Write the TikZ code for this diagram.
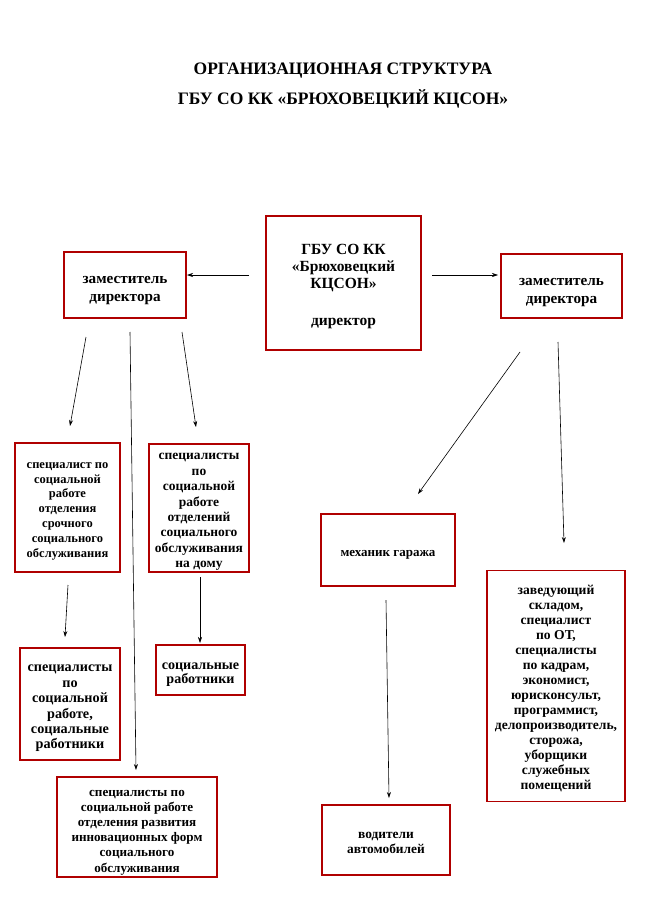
\documentclass[tikz,border=0pt]{standalone}
\usepackage{fontspec}
\setmainfont{Liberation Serif}
\usetikzlibrary{arrows.meta}
\definecolor{boxred}{RGB}{176,0,0}
% name, x, y, width, height, font size, baselineskip, downward text shift, text
\newcommand\orgbox[9]{%
  \node[box,minimum width=#4pt,minimum height=#5pt] (#1) at (#2,#3) {};
  \node[txt,font=\bfseries\fontsize{#6}{#7}\selectfont] (#1txt) at ([yshift=-#8pt]#1.center) {#9};}
\begin{document}
\begin{tikzpicture}[x=1pt,y=-1pt,
  box/.style={draw=boxred,line width=1.4pt,rectangle,inner sep=0pt},
  txt/.style={inner sep=0pt,align=center},
  conn/.style={-{Stealth[length=6pt,width=4pt]},line width=0.6pt}]
\useasboundingbox (0,0) rectangle (648,915);
\node[txt,font=\bfseries\fontsize{17.5}{30}\selectfont] (title) at (343,85.5)
  {ОРГАНИЗАЦИОННАЯ СТРУКТУРА\\ГБУ СО КК «БРЮХОВЕЦКИЙ КЦСОН»};
\orgbox{dir}{343.5}{283}{155}{134}{15.5}{17}{4}
  {ГБУ СО КК\\«Брюховецкий\\КЦСОН»\\[20pt]директор}
\orgbox{ldep}{125}{285}{122}{66}{15.2}{18}{6}
  {заместитель\\директора}
\orgbox{rdep}{561.5}{286}{121}{64}{15.2}{18}{7}
  {заместитель\\директора}
\orgbox{a}{67.5}{507.5}{105}{129}{12.5}{14.8}{3.5}
  {специалист по\\социальной\\работе\\отделения\\срочного\\социального\\обслуживания}
\orgbox{b}{199}{508}{100}{128}{13.5}{15.4}{4}
  {специалисты\\по\\социальной\\работе\\отделений\\социального\\обслуживания\\на дому}
\orgbox{c}{70}{704}{100}{112}{14.2}{15.4}{4.5}
  {специалисты\\по\\социальной\\работе,\\социальные\\работники}
\orgbox{d}{200.5}{670}{89}{50}{14.1}{14}{5}
  {социальные\\работники}
\orgbox{e}{137}{827}{160}{100}{13.1}{15.2}{5.5}
  {специалисты по\\социальной работе\\отделения развития\\инновационных форм\\социального\\обслуживания}
\orgbox{mech}{388}{550}{134}{72}{13}{15}{5}
  {механик гаража}
\orgbox{drv}{386}{840}{128}{70}{13.4}{15}{3}
  {водители\\автомобилей}
\orgbox{list}{556}{686}{138}{231}{13.6}{15}{2.5}
  {заведующий\\складом,\\специалист\\по ОТ,\\специалисты\\по кадрам,\\экономист,\\юрисконсульт,\\программист,\\делопроизводитель,\\сторожа,\\уборщики\\служебных\\помещений}
% connector end points
\coordinate (p1s) at (249,275); \coordinate (p1e) at (187,275);
\coordinate (p2s) at (432,275); \coordinate (p2e) at (498,275);
\coordinate (p3s) at (86,337);  \coordinate (p3e) at (70,426);
\coordinate (p4s) at (130,332); \coordinate (p4e) at (136,770);
\coordinate (p5s) at (182,332); \coordinate (p5e) at (196,427);
\coordinate (p6s) at (68,585);  \coordinate (p6e) at (65,637);
\coordinate (p7s) at (200,577); \coordinate (p7e) at (200,643);
\coordinate (p8s) at (520,352); \coordinate (p8e) at (418,494);
\coordinate (p9s) at (558,342); \coordinate (p9e) at (564,543);
\coordinate (p10s) at (386,600); \coordinate (p10e) at (389,798);
\foreach \i in {1,...,10} \draw[conn] (p\i s) -- (p\i e);
\end{tikzpicture}
\end{document}
